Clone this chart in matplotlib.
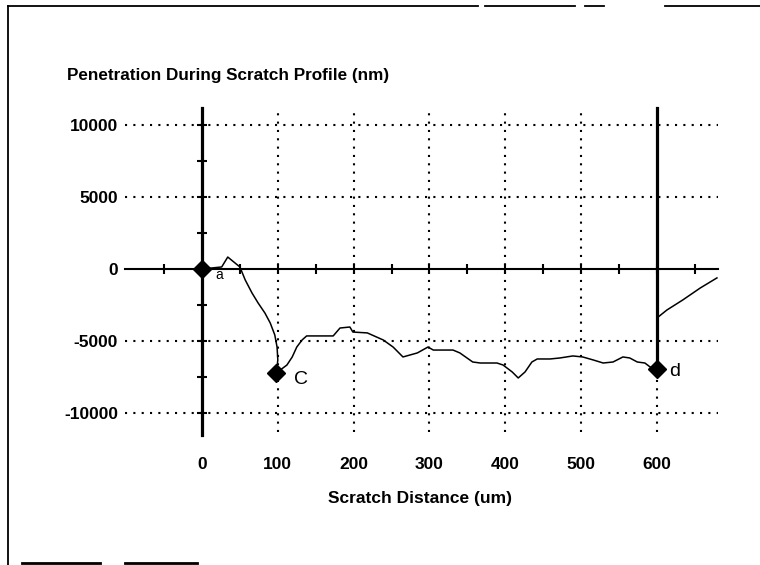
import matplotlib
matplotlib.use("Agg")
import matplotlib.pyplot as plt
from matplotlib.lines import Line2D

plt.rcParams['font.family'] = ['Liberation Sans', 'DejaVu Sans']

# profil de penetration
distance = [0, 26, 34, 50, 57, 66, 74, 83, 90, 96, 99, 100, 98, 112, 119, 125, 132, 138,
            173, 182, 195, 199, 218, 239, 252, 265, 284, 298, 305, 331, 340, 357, 367,
            389, 397, 409, 417, 426, 435, 442, 459, 472, 489, 502, 516, 529, 542, 555,
            564, 574, 584, 591, 600]
penetration = [0, 140, 830, 140, -760, -1670, -2360, -3060, -3750, -4580, -5420, -6320,
               -7220, -6670, -6110, -5420, -4930, -4650, -4650, -4100, -4030, -4380, -4440,
               -4930, -5420, -6110, -5830, -5420, -5630, -5630, -5830, -6460, -6530, -6530,
               -6670, -7150, -7570, -7150, -6460, -6250, -6250, -6180, -6040, -6110, -6320,
               -6530, -6460, -6110, -6180, -6460, -6530, -6810, -6940]

# remontee apres le point d
retour_x = [600, 613, 634, 657, 679]
retour_y = [-3400, -2850, -2150, -1320, -620]

# points marques
points_x = [0, 98, 600]
points_y = [0, -7220, -6940]
points_nom = ["a", "C", "d"]
points_decal = [(10, -4.5), (13, -5), (9, -2)]

xticks = [0, 100, 200, 300, 400, 500, 600]
yticks = [-10000, -5000, 0, 5000, 10000]
xmin, xmax = -101.5, 680.4
ymin, ymax = -11530, 11250

fig = plt.figure(figsize=(7.6, 5.65), dpi=100)
ax = fig.add_axes([0.16447, 0.23009, 0.78026, 0.58053])
ax.set_xlim(xmin, xmax)
ax.set_ylim(ymin, ymax)
for s in ax.spines.values():
    s.set_visible(False)

pointille = (0, (1, 3))
# grille
for y in [-10000, -5000, 5000, 10000]:
    ax.plot([xmin, xmax], [y, y], color='black', lw=1.5, ls=pointille, clip_on=False)
for x in [100, 200, 300, 400, 500]:
    ax.plot([x, x], [-11320, ymax], color='black', lw=1.5, ls=pointille, clip_on=False)
ax.plot([600, 600], [-11320, -6940], color='black', lw=1.5, ls=pointille, clip_on=False)

# axes
ax.plot([xmin, xmax], [0, 0], color='black', lw=1.5, clip_on=False)
ax.plot([0, 0], [ymin, 11150], color='black', lw=2.3, clip_on=False)
ax.plot([600, 600], [-6940, 11150], color='black', lw=2.3, clip_on=False)
ax.plot(list(range(-50, 700, 50)), [0] * 15, ls='none', marker='|', ms=7,
        mew=1.5, color='black', clip_on=False)
ax.plot([0] * 9, list(range(-10000, 10001, 2500)), ls='none', marker='_', ms=7,
        mew=1.5, color='black', clip_on=False)

# courbe
ax.plot(distance, penetration, color='black', lw=1.1, clip_on=False)
ax.plot(retour_x, retour_y, color='black', lw=1.1, clip_on=False)
ax.plot(points_x, points_y, ls='none', marker='D', ms=9.5, color='black', clip_on=False)
for px, py, nom, d in zip(points_x, points_y, points_nom, points_decal):
    taille = 10 if nom == "a" else 14
    ax.annotate(nom, (px, py), xytext=d, textcoords='offset points',
                ha='left', va='center', fontsize=taille)

ax.set_xticks(xticks)
ax.set_yticks(yticks)
ax.set_xticklabels([str(v) for v in xticks], fontsize=12.5, fontweight='bold')
ax.set_yticklabels([str(v) for v in yticks], fontsize=12.5, fontweight='bold')
ax.tick_params(axis='x', length=0, pad=16)
ax.tick_params(axis='y', length=0, pad=5)

fig.text(67 / 760, 1 - 76 / 565, "Penetration During Scratch Profile (nm)",
         ha='left', va='center', fontsize=12.3, fontweight='bold')
fig.text(420 / 760, 1 - 498 / 565, "Scratch Distance (um)",
         ha='center', va='center', fontsize=12.5, fontweight='bold')

# cadre du scan
def trait(x0, y0, x1, y1, lw=1.3):
    fig.add_artist(Line2D([x0 / 760, x1 / 760], [1 - y0 / 565, 1 - y1 / 565],
                          color='black', lw=lw))

trait(8, 6, 8, 565)
for a, b in [(8, 478), (485, 575), (585, 604), (665, 760)]:
    trait(a, 6, b, 6)
for a, b in [(22, 100), (125, 197)]:
    trait(a, 563, b, 563, lw=2)

fig.savefig("out.png", dpi=100)
